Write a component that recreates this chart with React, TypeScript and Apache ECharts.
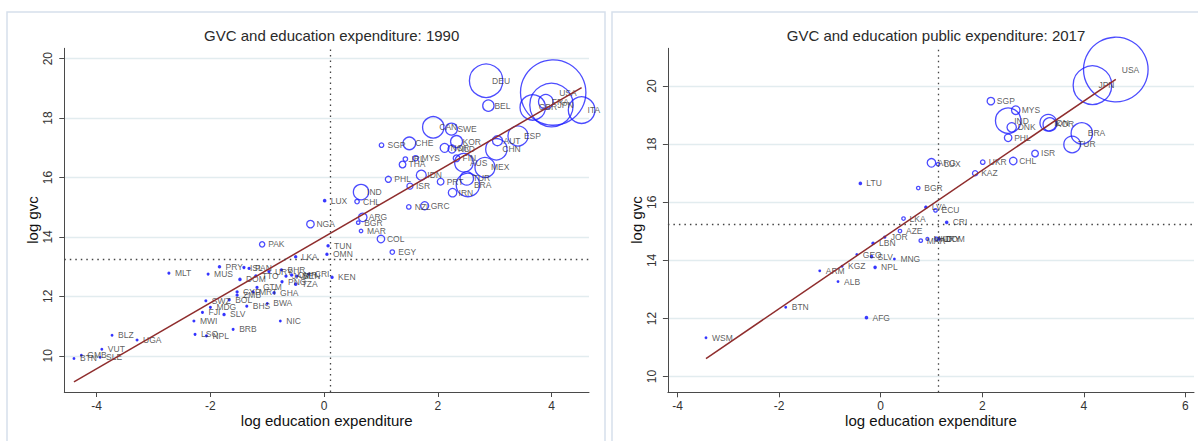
import React, { useEffect, useRef } from 'react';
import * as echarts from 'echarts';

const TITLE_1990 = 'GVC and education expenditure: 1990';
const TITLE_2017 = 'GVC and education public expenditure: 2017';
const X_TITLE = 'log education expenditure';
const Y_TITLE = 'log gvc';

const xTicks1990 = [-4, -2, 0, 2, 4];
const yTicks1990 = [10, 12, 14, 16, 18, 20];
const xTicks2017 = [-4, -2, 0, 2, 4, 6];
const yTicks2017 = [10, 12, 14, 16, 18, 20];

const xRange1990 = [-4.57, 4.66];
const yRange1990 = [8.78, 20.35];
const xRange2017 = [-4.19, 6.17];
const yRange2017 = [9.46, 21.3];

// 1990 panel
const codes1990 = ['DEU', 'BEL', 'USA', 'JPN', 'GBR', 'FRA', 'ITA', 'ESP', 'AUT', 'CHN', 'MEX', 'AUS', 'FIN', 'TUR', 'BRA', 'IRN', 'PRT', 'IDN', 'CAN', 'SWE', 'KOR', 'NOR', 'NLD', 'CHE', 'MYS', 'SGP', 'IRL', 'THA', 'PHL', 'ISR', 'IND', 'CHL', 'LUX', 'NZL', 'GRC', 'ARG', 'BGR', 'MAR', 'NGA', 'COL', 'EGY', 'PAK', 'TUN', 'OMN', 'LKA', 'KEN', 'MUS', 'PRY', 'ISL', 'PAN', 'URY', 'TTO', 'DOM', 'BHR', 'JAM', 'CMR', 'SEN', 'CRI', 'PNG', 'TZA', 'CYP', 'ZMB', 'GTM', 'MRT', 'GHA', 'SWZ', 'BOL', 'MDG', 'FJI', 'SLV', 'BHS', 'BWA', 'MWI', 'NIC', 'LSO', 'NPL', 'BRB', 'MLT', 'BLZ', 'UGA', 'VUT', 'GMB', 'BTN', 'SLE'];
const eduExp1990 = [2.85, 2.89, 4.03, 4.0, 3.67, 3.9, 4.53, 3.41, 3.05, 3.03, 2.83, 2.46, 2.33, 2.51, 2.53, 2.26, 2.05, 1.71, 1.92, 2.24, 2.33, 2.12, 2.25, 1.5, 1.61, 1.01, 1.43, 1.38, 1.13, 1.51, 0.65, 0.58, 0.01, 1.49, 1.77, 0.68, 0.6, 0.65, -0.24, 1.0, 1.2, -1.09, 0.07, 0.05, -0.5, 0.14, -2.04, -1.84, -1.41, -1.32, -0.97, -1.2, -1.48, -0.75, -0.67, -0.57, -0.48, -0.27, -0.74, -0.5, -1.53, -1.53, -1.18, -1.25, -0.88, -2.08, -1.67, -2.0, -2.14, -1.76, -1.36, -1.0, -2.29, -0.77, -2.27, -2.07, -1.6, -2.73, -3.73, -3.29, -3.91, -4.27, -4.4, -3.94];
const gvc1990 = [19.26, 18.42, 18.86, 18.44, 18.36, 18.55, 18.27, 17.4, 17.24, 16.95, 16.34, 16.5, 16.65, 15.97, 15.75, 15.49, 15.86, 16.08, 17.69, 17.63, 17.21, 17.0, 16.96, 17.15, 16.65, 17.09, 16.62, 16.44, 15.94, 15.71, 15.51, 15.19, 15.22, 15.01, 15.05, 14.66, 14.48, 14.2, 14.43, 13.93, 13.49, 13.75, 13.7, 13.42, 13.33, 12.64, 12.75, 13.0, 12.97, 12.94, 12.83, 12.69, 12.57, 12.89, 12.68, 12.72, 12.68, 12.75, 12.49, 12.41, 12.15, 12.04, 12.3, 12.15, 12.12, 11.85, 11.88, 11.63, 11.46, 11.39, 11.67, 11.76, 11.17, 11.17, 10.72, 10.67, 10.89, 12.78, 10.69, 10.53, 10.22, 10.02, 9.91, 9.95];
const weight1990 = [279, 32, 1069, 471, 161, 53, 177, 100, 25, 114, 100, 86, 11, 45, 137, 18, 11, 25, 114, 36, 36, 20, 16, 40, 7, 5, 5, 11, 9, 9, 59, 5, 1.4, 5, 16, 18, 3, 3, 14, 14, 5, 7, 1.2, 1.2, 1.2, 1.2, 0.8, 1.2, 1, 1, 1, 1, 1.3, 1, 1, 1.2, 1, 1, 1, 1.3, 1, 1, 1, 1, 1.2, 0.8, 1, 0.8, 0.8, 1.2, 0.8, 0.6, 0.8, 0.6, 0.8, 0.8, 0.8, 0.8, 0.5, 0.8, 0.5, 0.5, 0.5, 0.6];
const fit1990 = { intercept: 14.0, slope: 1.109 };
const mean1990 = { x: 0.1, y: 13.25 };

// 2017 panel
const codes2017 = ['USA', 'JPN', 'SGP', 'MYS', 'IND', 'DNK', 'PHL', 'IDN', 'KOR', 'BRA', 'TUR', 'ISR', 'CHL', 'UKR', 'KAZ', 'ARG', 'LUX', 'LTU', 'BGR', 'LVA', 'ECU', 'CRI', 'LKA', 'AZE', 'JOR', 'LBN', 'MAR', 'MKD', 'URY', 'DOM', 'GEO', 'SLV', 'MNG', 'KGZ', 'NPL', 'ARM', 'ALB', 'BTN', 'AFG', 'WSM'];
const eduExp2017 = [4.63, 4.17, 2.17, 2.66, 2.51, 2.58, 2.51, 3.3, 3.33, 3.96, 3.77, 3.04, 2.61, 2.01, 1.86, 1.0, 1.13, -0.4, 0.74, 0.89, 1.08, 1.3, 0.45, 0.38, 0.08, -0.15, 0.79, 0.92, 1.1, 1.15, -0.47, -0.18, 0.27, -0.76, -0.11, -1.2, -0.84, -1.87, -0.28, -3.44];
const gvc2017 = [20.57, 20.03, 19.48, 19.17, 18.81, 18.58, 18.22, 18.74, 18.68, 18.37, 17.99, 17.68, 17.42, 17.38, 17.0, 17.36, 17.31, 16.65, 16.49, 15.83, 15.72, 15.31, 15.44, 15.01, 14.8, 14.59, 14.68, 14.74, 14.74, 14.74, 14.2, 14.13, 14.05, 13.8, 13.76, 13.64, 13.27, 12.39, 12.03, 11.34];
const weight2017 = [1043, 372, 14, 18, 161, 22, 14, 69, 45, 114, 69, 11, 14, 5, 7, 18, 3, 1.4, 3, 1.4, 3, 1.4, 3, 3, 1, 1.4, 3, 2, 3, 1.4, 0.6, 1.4, 0.5, 0.4, 1.4, 0.5, 0.5, 0.6, 1.4, 0.3];
const fit2017 = { intercept: 14.72, slope: 1.191 };
const mean2017 = { x: 1.13, y: 15.26 };

const FONT = "'Liberation Sans', Arial, sans-serif";
const BLUE = '#1f1fff';
const FIT = '#8f2d2d';
const AXIS = '#4a4a4a';
const GRID = '#e2ecef';

function scatterSeries(idx: number, codes: string[], xs: number[], ys: number[], ws: number[], mean: { x: number; y: number }) {
  return {
    type: 'scatter',
    xAxisIndex: idx,
    yAxisIndex: idx,
    z: 3,
    symbol: 'circle',
    symbolSize: (v: number[]) => Math.max(1.6, 2 * Math.sqrt(v[2])),
    data: codes.map((c, i) => ({
      name: c,
      value: [xs[i], ys[i], ws[i]],
      itemStyle: ws[i] < 2 ? { color: BLUE } : undefined,
    })),
    itemStyle: { color: 'rgba(0,0,0,0)', borderColor: BLUE, borderWidth: 1.3 },
    emphasis: { disabled: true },
    label: {
      show: true,
      formatter: '{b}',
      position: ['50%', '50%'],
      offset: [6, 0],
      align: 'left',
      verticalAlign: 'middle',
      fontSize: 8.5,
      fontFamily: FONT,
      color: '#333',
    },
    markLine: {
      silent: true,
      symbol: ['none', 'none'],
      label: { show: false },
      lineStyle: { color: '#444', type: [1.5, 4], width: 1.3 },
      data: [{ xAxis: mean.x }, { yAxis: mean.y }],
    },
  };
}

function fitSeries(idx: number, xs: number[], fit: { intercept: number; slope: number }) {
  const lo = Math.min(...xs);
  const hi = Math.max(...xs);
  return {
    type: 'line',
    xAxisIndex: idx,
    yAxisIndex: idx,
    z: 4,
    symbol: 'none',
    silent: true,
    lineStyle: { color: FIT, width: 1.5 },
    data: [
      [lo, fit.intercept + fit.slope * lo],
      [hi, fit.intercept + fit.slope * hi],
    ],
  };
}

function xAxis(idx: number, range: number[], ticks: number[]) {
  return {
    gridIndex: idx,
    type: 'value',
    min: range[0],
    max: range[1],
    axisLine: { show: true, onZero: false, lineStyle: { color: AXIS, width: 1 } },
    axisTick: { show: true, length: 5, customValues: ticks, lineStyle: { color: AXIS } },
    axisLabel: { customValues: ticks, fontSize: 12, color: '#333', margin: 8, fontFamily: FONT },
    splitLine: { show: false },
  };
}

function yAxis(idx: number, range: number[], ticks: number[]) {
  return {
    gridIndex: idx,
    type: 'value',
    min: range[0],
    max: range[1],
    axisLine: { show: true, onZero: false, lineStyle: { color: AXIS, width: 1 } },
    axisTick: { show: true, length: 5, customValues: ticks, lineStyle: { color: AXIS } },
    axisLabel: { customValues: ticks, fontSize: 12, color: '#333', margin: 10, rotate: 90, fontFamily: FONT },
    splitLine: { show: true, lineStyle: { color: GRID, width: 1.3 } },
  };
}

function axisTitle(text: string, x: number, y: number, vertical: boolean) {
  return {
    type: 'text',
    silent: true,
    x,
    y,
    rotation: vertical ? Math.PI / 2 : 0,
    style: {
      text,
      font: `15px ${FONT}`,
      fill: '#111',
      align: 'center',
      verticalAlign: 'middle',
    },
  };
}

export default function App() {
  const ref = useRef<HTMLDivElement>(null);
  useEffect(() => {
    document.body.style.margin = '0';
    if (!ref.current) return;
    const chart = echarts.init(ref.current, undefined, { renderer: 'svg' });
    chart.setOption({
      animation: false,
      backgroundColor: '#fff',
      textStyle: { fontFamily: FONT },
      title: [
        { text: TITLE_1990, left: 326.7, top: 23, textAlign: 'center', textStyle: { fontSize: 15, fontWeight: 'normal', color: '#2a2a2a', fontFamily: FONT } },
        { text: TITLE_2017, left: 931, top: 23, textAlign: 'center', textStyle: { fontSize: 15, fontWeight: 'normal', color: '#2a2a2a', fontFamily: FONT } },
      ],
      graphic: [
        { type: 'rect', silent: true, shape: { x: 7, y: 12, width: 598, height: 440 }, style: { fill: 'none', stroke: '#d6e0ec', lineWidth: 1.5 } },
        { type: 'rect', silent: true, shape: { x: 612, y: 12, width: 600, height: 440 }, style: { fill: 'none', stroke: '#d6e0ec', lineWidth: 1.5 } },
        axisTitle(X_TITLE, 326.7, 420.5, false),
        axisTitle(X_TITLE, 931, 420.5, false),
        axisTitle(Y_TITLE, 32.5, 220, true),
        axisTitle(Y_TITLE, 636, 220, true),
      ],
      grid: [
        { left: 64.3, top: 48.3, width: 524.7, height: 343.7 },
        { left: 667.9, top: 48.3, width: 526.1, height: 344 },
      ],
      xAxis: [xAxis(0, xRange1990, xTicks1990), xAxis(1, xRange2017, xTicks2017)],
      yAxis: [yAxis(0, yRange1990, yTicks1990), yAxis(1, yRange2017, yTicks2017)],
      series: [
        scatterSeries(0, codes1990, eduExp1990, gvc1990, weight1990, mean1990),
        fitSeries(0, eduExp1990, fit1990),
        scatterSeries(1, codes2017, eduExp2017, gvc2017, weight2017, mean2017),
        fitSeries(1, eduExp2017, fit2017),
      ],
    });
    return () => chart.dispose();
  }, []);
  return <div ref={ref} style={{ width: 1198, height: 441 }} />;
}
